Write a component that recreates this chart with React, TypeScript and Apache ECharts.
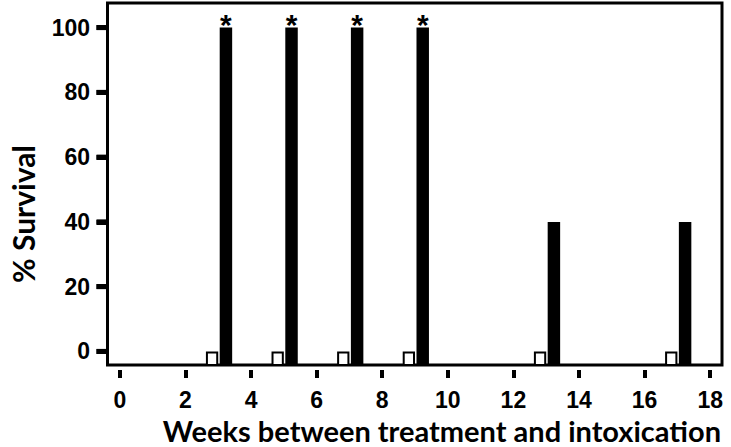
import React, { useEffect, useRef } from "react";
import * as echarts from "echarts";

// ---- data ----
const weeks = [3, 5, 7, 9, 13, 17];
const controlSurvival = [0, 0, 0, 0, 0, 0];
const treatedSurvival = [100, 100, 100, 100, 40, 40];
const significance = ["*", "*", "*", "*", "", ""];
const xTickValues = [0, 2, 4, 6, 8, 10, 12, 14, 16, 18];
const yTickValues = [0, 20, 40, 60, 80, 100];
const xTitle = "Weeks between treatment and intoxication";
const yTitle = "% Survival";

// ---- layout constants ----
const X_MIN = -0.376;
const X_MAX = 18.36;
const Y_MIN = -4.2;
const Y_MAX = 107.6;
const BAR_W = 0.375;
const BLACK_OFF = 0.045;
const BLACK_W = 0.38;
const Y_TICK_LEN = 11;
const Y_TICK_W = 5;

const NUM_FONT = "'Liberation Sans', Arial, sans-serif";
const TITLE_FONT = "Lato, 'Open Sans', sans-serif";

export default function App() {
  const ref = useRef<HTMLDivElement>(null);

  useEffect(() => {
    if (!ref.current) return;
    const chart = echarts.init(ref.current, undefined, { renderer: "svg" });

    const whiteData = weeks.map((w, i) => [w, controlSurvival[i]]);
    const blackData = weeks.map((w, i) => [w, treatedSurvival[i], i]);

    chart.setOption({
      animation: false,
      backgroundColor: "#fff",
      title: {
        text: xTitle,
        right: 10,
        top: 419,
        padding: 0,
        textStyle: {
          fontSize: 29,
          lineHeight: 22,
          fontWeight: "bold",
          fontFamily: TITLE_FONT,
          color: "#000",
        },
      },
      grid: {
        left: 98.5,
        top: 3,
        width: 623.5,
        height: 362,
        show: true,
        borderColor: "#000",
        borderWidth: 3,
        backgroundColor: "transparent",
      },
      xAxis: {
        type: "value",
        position: "bottom",
        min: X_MIN,
        max: X_MAX,
        offset: 5,
        axisLine: { show: false, onZero: false },
        splitLine: { show: false },
        axisTick: {
          show: true,
          length: 8,
          inside: false,
          customValues: xTickValues,
          lineStyle: { color: "#000", width: 4 },
        },
        axisLabel: {
          customValues: xTickValues,
          margin: 18,
          color: "#000",
          fontSize: 23,
          fontWeight: "bold",
          fontFamily: NUM_FONT,
        },
      },
      yAxis: {
        type: "value",
        position: "left",
        min: Y_MIN,
        max: Y_MAX,
        name: yTitle,
        nameLocation: "middle",
        nameRotate: 90,
        nameGap: 84.5,
        nameMoveOverlap: false,
        nameTextStyle: {
          align: "center",
          verticalAlign: "middle",
          padding: [0, 60, 0, 0],
          fontSize: 30,
          lineHeight: 22,
          fontWeight: "bold",
          fontFamily: TITLE_FONT,
          color: "#000",
        },
        axisLine: { show: false, onZero: false },
        splitLine: { show: false },
        axisTick: {
          show: true,
          length: Y_TICK_LEN,
          inside: false,
          customValues: yTickValues,
          lineStyle: { color: "#000", width: Y_TICK_W },
        },
        axisLabel: {
          customValues: yTickValues,
          margin: 17.5,
          color: "#000",
          fontSize: 23,
          fontWeight: "bold",
          fontFamily: NUM_FONT,
        },
      },
      series: [
        {
          type: "custom",
          name: "Control",
          data: whiteData,
          z: 3,
          renderItem: (params: any, api: any) => {
            const x = api.value(0);
            const v = api.value(1);
            const pBase = api.coord([x - BAR_W, Y_MIN]);
            const pTop = api.coord([x, v]);
            return {
              type: "rect",
              shape: {
                x: pBase[0] + 1,
                y: pTop[1] + 1,
                width: pTop[0] - pBase[0] - 2,
                height: pBase[1] - pTop[1] - 1,
              },
              style: { fill: "#fff", stroke: "#000", lineWidth: 2 },
            };
          },
        },
        {
          type: "custom",
          name: "Treated",
          data: blackData,
          z: 3,
          clip: false,
          renderItem: (params: any, api: any) => {
            const x = api.value(0);
            const v = api.value(1);
            const idx = api.value(2);
            const pBase = api.coord([x + BLACK_OFF, Y_MIN]);
            const pTop = api.coord([x + BLACK_OFF + BLACK_W, v]);
            const children: any[] = [
              {
                type: "rect",
                shape: {
                  x: pBase[0],
                  y: pTop[1],
                  width: pTop[0] - pBase[0],
                  height: pBase[1] - pTop[1],
                },
                style: { fill: "#000" },
              },
            ];
            // y-axis tick marks, placed through the value axis scale
            if (idx === 0) {
              yTickValues.forEach((tv) => {
                const p = api.coord([X_MIN, tv]);
                children.push({
                  type: "rect",
                  shape: {
                    x: p[0] - Y_TICK_LEN,
                    y: p[1] - Y_TICK_W / 2,
                    width: Y_TICK_LEN,
                    height: Y_TICK_W,
                  },
                  style: { fill: "#000" },
                });
              });
            }
            const mark = significance[idx];
            if (mark) {
              children.push({
                type: "text",
                x: (pBase[0] + pTop[0]) / 2,
                y: pTop[1] - 18,
                style: {
                  text: mark,
                  align: "center",
                  verticalAlign: "top",
                  fontSize: 30,
                  fontWeight: "bold",
                  fontFamily: NUM_FONT,
                  fill: "#000",
                },
              });
            }
            return { type: "group", children };
          },
        },
      ],
    });

    return () => chart.dispose();
  }, []);

  return (
    <div
      ref={ref}
      style={{ position: "absolute", left: 0, top: 0, width: 731, height: 447 }}
    />
  );
}
